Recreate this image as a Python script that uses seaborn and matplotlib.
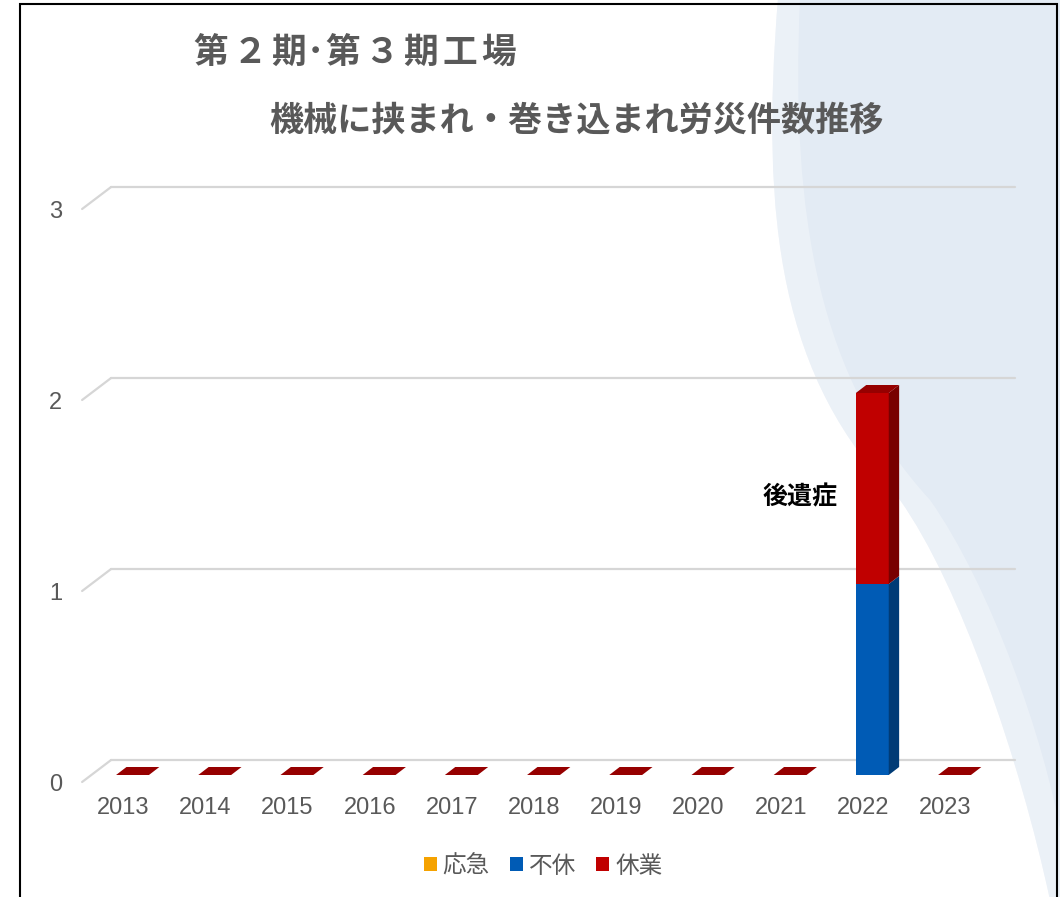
import numpy as np
import pandas as pd
import matplotlib
matplotlib.use("Agg")
import matplotlib.pyplot as plt
import matplotlib.transforms as mtrans
import seaborn as sns
from matplotlib.patches import Polygon, Rectangle, PathPatch, Patch
from matplotlib.path import Path

# ---------------- data ----------------
years = ["2013", "2014", "2015", "2016", "2017", "2018", "2019", "2020", "2021", "2022", "2023"]
oukyu = [0, 0, 0, 0, 0, 0, 0, 0, 0, 0, 0]      # 応急
fukyu = [0, 0, 0, 0, 0, 0, 0, 0, 0, 1, 0]      # 不休
kyugyo = [0, 0, 0, 0, 0, 0, 0, 0, 0, 1, 0]     # 休業
series_names = ["応急", "不休", "休業"]
y_ticks = [0, 1, 2, 3]
title_line1 = "第２期･第３期工場"
title_line2 = "機械に挟まれ・巻き込まれ労災件数推移"
note_text = "後遺症"

front_colors = ["#F5A200", "#005BB5", "#C00000"]
side_colors = ["#B57700", "#003B76", "#780000"]
top_colors = ["#D08A00", "#00488F", "#960000"]
grey = "#595959"

# ---------------- style ----------------
sns.set_theme(style="white")
plt.rcParams['font.family'] = ['Noto Sans CJK JP', 'DejaVu Sans']
num_font = ['Liberation Sans', 'DejaVu Sans']

W, H = 1060, 897
fig = plt.figure(figsize=(W / 100, H / 100), dpi=100)
fig.patch.set_facecolor("white")


def fx(px):
    return px / W


def fy(py):
    return 1 - py / H


# decorative background (light blue swoosh on the right)
verts = [(fx(778), fy(-2)),
         (fx(760), fy(220)), (fx(780), fy(380)), (fx(900), fy(500)),
         (fx(960), fy(585)), (fx(1020), fy(760)), (fx(1050), fy(900)),
         (fx(1062), fy(900)), (fx(1062), fy(-2)), (fx(778), fy(-2))]
codes = [Path.MOVETO,
         Path.CURVE4, Path.CURVE4, Path.CURVE4,
         Path.CURVE4, Path.CURVE4, Path.CURVE4,
         Path.LINETO, Path.LINETO, Path.CLOSEPOLY]
bg = PathPatch(Path(verts, codes), facecolor="#E3EBF4", edgecolor="none",
               transform=fig.transFigure, zorder=-10)
fig.patches.append(bg)
# faint white band just inside the swoosh edge
verts2 = [(fx(800), fy(-2)),
          (fx(790), fy(220)), (fx(820), fy(380)), (fx(930), fy(500)),
          (fx(990), fy(585)), (fx(1045), fy(740)), (fx(1062), fy(840)),
          (fx(1062), fy(900)), (fx(1050), fy(900)),
          (fx(1020), fy(760)), (fx(960), fy(585)), (fx(900), fy(500)),
          (fx(780), fy(380)), (fx(760), fy(220)), (fx(778), fy(-2)),
          (fx(800), fy(-2))]
codes2 = [Path.MOVETO,
          Path.CURVE4, Path.CURVE4, Path.CURVE4,
          Path.CURVE4, Path.CURVE4, Path.CURVE4,
          Path.LINETO, Path.LINETO,
          Path.CURVE4, Path.CURVE4, Path.CURVE4,
          Path.CURVE4, Path.CURVE4, Path.CURVE4,
          Path.CLOSEPOLY]
band = PathPatch(Path(verts2, codes2), facecolor="white", edgecolor="none", alpha=0.3,
                 transform=fig.transFigure, zorder=-9)
fig.patches.append(band)

# frame
frame = Rectangle((fx(20), -0.02), fx(1057) - fx(20), fy(4) + 0.02, fill=False,
                  edgecolor="black", linewidth=1.5, transform=fig.transFigure, zorder=20)
fig.patches.append(frame)

# ---------------- axes ----------------
ax_left_px, ax_right_px = 91.4, 995.6
ax_bottom_px, ax_top_px = 775.0, 202.0
ax = fig.add_axes([fx(ax_left_px), fy(ax_bottom_px),
                   (ax_right_px - ax_left_px) / W, (ax_bottom_px - ax_top_px) / H])
ax.set_facecolor("none")

df = pd.DataFrame({
    "year": years,
    "s1": np.array(oukyu),
    "s2": np.array(oukyu) + np.array(fukyu),
    "s3": np.array(oukyu) + np.array(fukyu) + np.array(kyugyo),
})

bar_w = 0.4
sns.barplot(data=df, x="year", y="s3", color=front_colors[2], saturation=1,
            width=bar_w, errorbar=None, ax=ax, zorder=3, linewidth=0)
sns.barplot(data=df, x="year", y="s2", color=front_colors[1], saturation=1,
            width=bar_w, errorbar=None, ax=ax, zorder=3, linewidth=0)
sns.barplot(data=df, x="year", y="s1", color=front_colors[0], saturation=1,
            width=bar_w, errorbar=None, ax=ax, zorder=3, linewidth=0)

n = len(years)
ax.set_xlim(-0.5, n - 0.5)
ax.set_ylim(0, 3)

px_per_x = (ax_right_px - ax_left_px) / n
px_per_y = (ax_bottom_px - ax_top_px) / 3.0


def dpx(px_x, px_y):
    """pixel offset (x right, y up) -> data offset"""
    return px_x / px_per_x, px_y / px_per_y


# 3D depth geometry
bar_dx, bar_dy = dpx(10.4, 8.0)
back_dx, back_dy = dpx(19.7, 15.0)
front_dx, front_dy = dpx(-9.3, -7.0)

# gridlines (back wall) and floor slants
x0, x1 = ax.get_xlim()
for v in y_ticks:
    ax.plot([x0 + back_dx, x1 + back_dx], [v + back_dy, v + back_dy],
            color="#D6D6D6", lw=1.6, zorder=1, clip_on=False, solid_capstyle="round")
    ax.plot([x0 + front_dx, x0 + back_dx], [v + front_dy, v + back_dy],
            color="#D6D6D6", lw=1.6, zorder=1, clip_on=False, solid_capstyle="round")

# side and top faces of bars, using seaborn bar positions
red_bars = ax.patches[:n]
stacks = [np.array(oukyu), np.array(fukyu), np.array(kyugyo)]
for i, p in enumerate(red_bars):
    xl = p.get_x()
    xr = xl + p.get_width()
    bottom = 0.0
    top_idx = 2
    for s in range(3):
        h = stacks[s][i]
        if h > 0:
            t = bottom + h
            ax.add_patch(Polygon([(xr, bottom), (xr + bar_dx, bottom + bar_dy),
                                  (xr + bar_dx, t + bar_dy), (xr, t)],
                                 closed=True, facecolor=side_colors[s], edgecolor="none",
                                 zorder=3, clip_on=False))
            bottom = t
            top_idx = s
    ax.add_patch(Polygon([(xl, bottom), (xr, bottom), (xr + bar_dx, bottom + bar_dy),
                          (xl + bar_dx, bottom + bar_dy)],
                         closed=True, facecolor=top_colors[top_idx], edgecolor="none",
                         zorder=4, clip_on=False))

# axes cosmetics
for sp in ax.spines.values():
    sp.set_visible(False)
ax.set_xlabel("")
ax.set_ylabel("")
ax.set_yticks(y_ticks)
ax.set_yticklabels([str(v) for v in y_ticks])
ax.tick_params(axis="y", length=0, pad=21.2, labelsize=17, labelcolor=grey)
ax.tick_params(axis="x", length=0, pad=11.0, labelsize=17, labelcolor=grey)
for lab in ax.get_yticklabels():
    lab.set_fontfamily(num_font)
    lab.set_transform(lab.get_transform() + mtrans.ScaledTranslation(0, -7 / 100, fig.dpi_scale_trans))
for lab in ax.get_xticklabels():
    lab.set_fontfamily(num_font)
    lab.set_transform(lab.get_transform() + mtrans.ScaledTranslation(-9.3 / 100, -7 / 100, fig.dpi_scale_trans))
ax.grid(False)

# annotation
idx_note = years.index("2022")
ax.text(idx_note - bar_w / 2 - 0.22, fukyu[idx_note] + 0.455 * kyugyo[idx_note], note_text,
        ha="right", va="center", fontsize=18, fontweight="bold", color="black", zorder=5)

# title line 1: cell layout with letter spacing (narrow cell for the middle dot)
t1_size = 25
em_px = t1_size * 100 / 72
cells = [0.3 if ch == "･" else 1.0 for ch in title_line1]
t1_left, t1_right = 195, 515
ink_pad = 1.5
spacing = (t1_right - t1_left + 2 * ink_pad - sum(cells) * em_px) / (len(cells) - 1)
x = t1_left - ink_pad
for ch, c in zip(title_line1, cells):
    cw = c * em_px
    fig.text(fx(x + cw / 2), fy(63), ch, ha="center", va="baseline", fontsize=t1_size,
             fontweight="bold", color=grey)
    x += cw + spacing

# title line 2
fig.text(fx(269), fy(131), title_line2, ha="left", va="baseline", fontsize=24.6,
         fontweight="bold", color=grey)

# legend
handles = [Patch(facecolor=c, edgecolor="none") for c in front_colors]
fig.legend(handles, series_names, loc="center", bbox_to_anchor=(fx(543), fy(866)),
           ncol=3, frameon=False, fontsize=17, labelcolor=grey,
           handlelength=0.55, handleheight=0.55, handletextpad=0.25, columnspacing=0.85)

fig.savefig("out.png", dpi=100, facecolor=fig.get_facecolor())
